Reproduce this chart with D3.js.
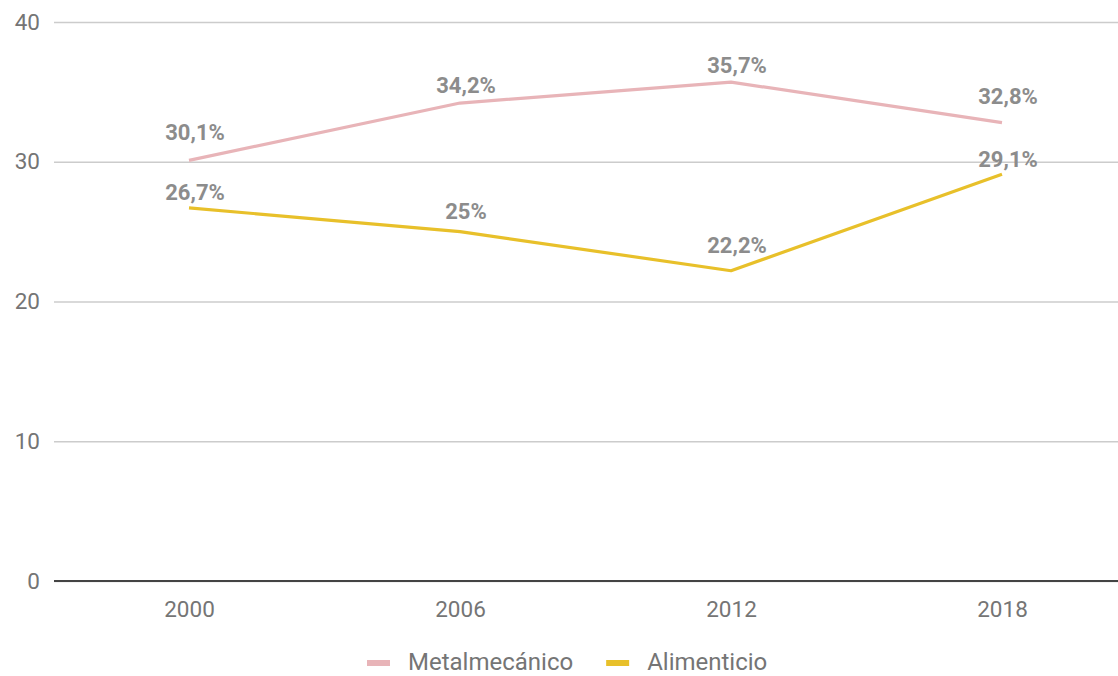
<!DOCTYPE html>
<html><head><meta charset="utf-8">
<script src="https://cdn.jsdelivr.net/npm/d3@7/dist/d3.min.js"></script>
<style>html,body{margin:0;padding:0;background:#fff;}svg{display:block;}</style>
</head><body>
<svg id="c" width="1118" height="676"></svg>
<script>
const years = ["2000", "2006", "2012", "2018"];
const metalmecanico = [30.1, 34.2, 35.7, 32.8];
const alimenticio = [26.7, 25, 22.2, 29.1];
const yTicks = [0, 10, 20, 30, 40];
const seriesNames = ["Metalmecánico", "Alimenticio"];
const seriesColors = ["#e8b4b8", "#e8c02a"];
// annotation vertical nudges (px above point), mimicking the original label placement
const labelLift = [[20, 10, 9, 19], [8, 13, 18, 7]];

const fmt = v => String(v).replace(".", ",") + "%";
const svg = d3.select("#c");
const font = "Roboto, 'Noto Sans', sans-serif";

const x = d3.scalePoint().domain(years).range([53.5, 1137.5]).padding(0.5);
const y = d3.scaleLinear().domain([0, 40]).range([581, 22]);

// gridlines
const yAxis = d3.axisLeft(y).tickValues(yTicks).tickSize(-1070).tickPadding(14).tickFormat(d3.format("d"));
const gy = svg.append("g").attr("transform", "translate(54,0)").call(yAxis);
gy.select(".domain").remove();
gy.selectAll(".tick line").attr("stroke", "#cccccc").attr("stroke-width", 1.3);
gy.selectAll(".tick text").attr("fill", "#757575").style("font-family", font).style("font-size", "22.5px");

// baseline
svg.append("line").attr("x1", 54).attr("x2", 1118).attr("y1", y(0)).attr("y2", y(0))
  .attr("stroke", "#444").attr("stroke-width", 2.2);

// x axis labels
const xAxis = d3.axisBottom(x).tickSize(0).tickPadding(20);
const gx = svg.append("g").attr("transform", `translate(0,${y(0)})`).call(xAxis);
gx.select(".domain").remove();
gx.selectAll(".tick text").attr("fill", "#757575").style("font-family", font).style("font-size", "22.5px");

const series = [metalmecanico, alimenticio];
const line = d3.line().x((d, i) => x(years[i])).y(d => y(d));

series.forEach((vals, s) => {
  svg.append("path").datum(vals).attr("d", line).attr("fill", "none")
    .attr("stroke", seriesColors[s]).attr("stroke-width", 3.2).attr("stroke-linejoin", "round");
});
series.forEach((vals, s) => {
  svg.append("g").selectAll("text").data(vals).join("text")
    .attr("x", (d, i) => x(years[i]) + 6)
    .attr("y", (d, i) => y(d) - labelLift[s][i])
    .attr("text-anchor", "middle")
    .attr("fill", "#8c8c8c")
    .style("font-family", font).style("font-size", "22px").style("font-weight", "bold")
    .text(d => fmt(d));
});

// legend
const lg = svg.append("g").attr("transform", "translate(367,663)");
let lx = 0;
seriesNames.forEach((n, s) => {
  lg.append("line").attr("x1", lx).attr("x2", lx + 23).attr("y1", 0).attr("y2", 0)
    .attr("stroke", seriesColors[s]).attr("stroke-width", 6);
  const t = lg.append("text").attr("x", lx + 41).attr("y", 7).attr("fill", "#757575")
    .style("font-family", font).style("font-size", "24px").text(n);
  lx += 41 + t.node().getComputedTextLength() + 33;
});
</script>
</body></html>
